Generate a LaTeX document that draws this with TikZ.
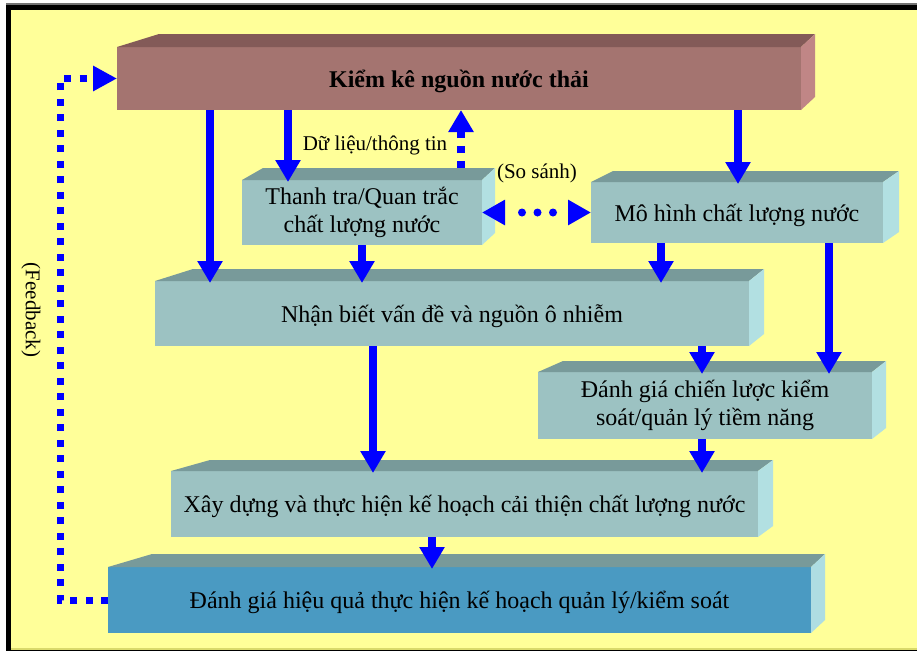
\documentclass[tikz,border=0pt]{standalone}
\usepackage{fontspec}
\setmainfont{Liberation Serif}
\usetikzlibrary{arrows.meta,calc}

\definecolor{bgyellow}{HTML}{FFFF99}
\definecolor{flowblue}{HTML}{0000FF}
\definecolor{kkfront}{HTML}{A47470}
\definecolor{kktop}{HTML}{835A58}
\definecolor{kkside}{HTML}{C08686}
\definecolor{tlfront}{HTML}{9CC2C2}
\definecolor{tltop}{HTML}{789A9A}
\definecolor{tlside}{HTML}{B2E0E2}
\definecolor{btfront}{HTML}{4A9AC2}
\definecolor{btside}{HTML}{AEDDE2}

% top and right faces of a bar whose front face is node #1
% #2 slant of the left top edge, #3/#4 depth right/up, #5 top colour, #6 side colour
\newcommand\barfaces[6]{%
  \fill[#5] (#1.north west) -- ++(#2,-#4) -- ($(#1.north east)+(#3,-#4)$)
            -- (#1.north east) -- cycle;
  \fill[#6] (#1.north east) -- ++(#3,-#4) -- ($(#1.south east)+(#3,-#4)$)
            -- (#1.south east) -- cycle;}

\begin{document}
\begin{tikzpicture}[x=1pt,y=-1pt,
  every node/.style={inner sep=0pt,outer sep=0pt},
  front/.style={anchor=north west,align=center,
    font=\fontsize{24}{27.5}\selectfont},
  oneline/.style={front,text depth=0pt},
  lbl/.style={font=\fontsize{21}{24}\selectfont},
  flow/.style={draw=flowblue,line width=8pt,
    -{Triangle[width=24pt,length=22pt]},shorten >=-2pt},
  dotsq/.style={draw=flowblue,line width=8pt,line cap=butt,
    dash pattern=on 7pt off 8pt,
    -{Triangle[width=24pt,length=22pt]}},
  fbline/.style={draw=flowblue,line width=7pt,line cap=butt,
    dash pattern=on 7pt off 8.5pt,
    -{Triangle[width=24pt,length=24pt]}}]

\useasboundingbox (0,0) rectangle (917,651);

% frame and background
\fill[white] (0,0) rectangle (917,651);
\fill[black!55] (6,3) rectangle (917,5);
\fill[black] (6,5) rectangle (917,651);
\fill[bgyellow] (11,10) rectangle (917,648);
\fill[bgyellow!70!olive] (11,648) rectangle (917,650);

% bars
\node[oneline,fill=kkfront,minimum width=684pt,minimum height=63pt,
  font=\fontsize{24}{27.5}\selectfont\bfseries] (kk) at (117,47)
  {Kiểm kê nguồn nước thải};
\barfaces{kk}{42}{14}{13}{kktop}{kkside}

\node[front,fill=tlfront,minimum width=240pt,minimum height=65pt] (tt) at (242,180)
  {Thanh tra/Quan trắc\\chất lượng nước};
\barfaces{tt}{21}{13}{12}{tltop}{tlside}

\node[oneline,fill=tlfront,minimum width=292pt,minimum height=61pt] (mh) at (591,182)
  {Mô hình chất lượng nước};
\barfaces{mh}{22}{16}{11}{tltop}{tlside}

\node[oneline,fill=tlfront,minimum width=594pt,minimum height=65pt] (nb) at (155,281)
  {Nhận biết vấn đề và nguồn ô nhiễm};
\barfaces{nb}{38}{15}{12}{tltop}{tlside}

\node[front,fill=tlfront,minimum width=334pt,minimum height=67pt] (dg) at (538,372)
  {Đánh giá chiến lược kiểm\\soát/quản lý tiềm năng};
\barfaces{dg}{25}{14}{11}{tltop}{tlside}

\node[oneline,fill=tlfront,minimum width=587pt,minimum height=66pt] (xd) at (171,471)
  {Xây dựng và thực hiện kế hoạch cải thiện chất lượng nước};
\barfaces{xd}{39}{15}{11}{tltop}{tlside}

\node[oneline,fill=btfront,minimum width=703pt,minimum height=66pt] (bt) at (108,567)
  {Đánh giá hiệu quả thực hiện kế hoạch quản lý/kiểm soát};
\barfaces{bt}{44}{14}{13}{tltop}{btside}

% flow arrows
\draw[flow] (kk.south -| 210,0) -- (nb.north -| 210,0);
\draw[flow] (kk.south -| 288,0) -- (tt.north -| 288,0);
\draw[flow] (kk.south -| 738,0) -- (mh.north -| 738,0);
\draw[flow] (tt.south -| 362,0) -- (nb.north -| 362,0);
\draw[flow] (mh.south -| 661,0) -- (nb.north -| 661,0);
\draw[flow] (mh.south -| 829,0) -- (dg.north -| 829,0);
\draw[flow] (nb.south -| 702,0) -- (dg.north -| 702,0);
\draw[flow] (nb.south -| 373,0) -- (xd.north -| 373,0);
\draw[flow] (dg.south -| 702,0) -- (xd.north -| 702,0);
\draw[flow] (xd.south -| 432,0) -- (bt.north -| 432,0);

% data / information return
\draw[dotsq] ($(tt.north -| 461,0)+(0,-12)$) -- (kk.south -| 461,0);

% comparison link
\draw[flowblue,line width=8pt,line cap=butt,dash pattern=on 0pt off 400pt,
  {Triangle[width=24pt,length=23pt]}-{Triangle[width=24pt,length=23pt]}]
  (tt.east) -- (mh.west);
\draw[flowblue,line width=8pt,line cap=round,dash pattern=on 0pt off 15.5pt,
  shorten <=40pt,shorten >=38pt] (tt.east) -- (mh.west);

% feedback loop
\coordinate (fbc) at (60,78.5);
\draw[fbline] (bt.west) -| (fbc) -- (kk.west);

% labels
\node[lbl] (dl) at (375,145) {Dữ liệu/thông tin};
\node[lbl] (ss) at (537,173) {(So sánh)};
\node[lbl,rotate=-90] (fb) at (31,310) {(Feedback)};

\end{tikzpicture}
\end{document}
